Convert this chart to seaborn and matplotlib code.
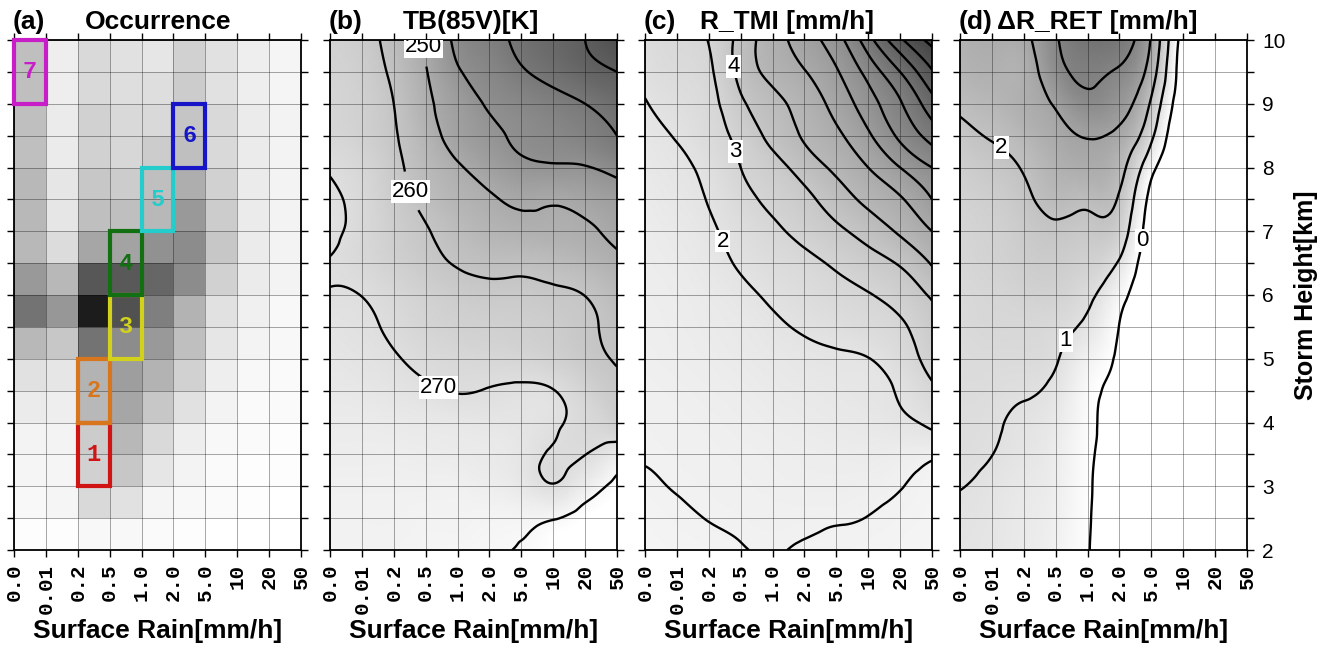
import numpy as np
import pandas as pd
import matplotlib
matplotlib.use("Agg")
import matplotlib.pyplot as plt
import matplotlib.tri as mtri
from matplotlib.colors import LinearSegmentedColormap
from matplotlib.patches import Rectangle
import seaborn as sns

sns.set_style("ticks")
plt.rcParams['font.family'] = ['Liberation Sans', 'DejaVu Sans']
plt.rcParams['text.color'] = 'black'
plt.rcParams['axes.labelcolor'] = 'black'
plt.rcParams['xtick.color'] = 'black'
plt.rcParams['ytick.color'] = 'black'

# === axes ===
rain_labels = ["0.0", "0.01", "0.2", "0.5", "1.0", "2.0", "5.0", "10", "20", "50"]
height_km = [10.0, 9.5, 9.0, 8.5, 8.0, 7.5, 7.0, 6.5, 6.0, 5.5, 5.0, 4.5, 4.0, 3.5, 3.0, 2.5, 2.0]

# === (a) occurrence, cells between heights (top -> bottom) x between rain classes ===
occurrence = [
    [0.25, 0.07, 0.15, 0.12, 0.10, 0.18, 0.12, 0.07, 0.04],
    [0.25, 0.07, 0.15, 0.13, 0.13, 0.20, 0.12, 0.07, 0.04],
    [0.25, 0.08, 0.18, 0.15, 0.15, 0.23, 0.15, 0.08, 0.05],
    [0.25, 0.08, 0.18, 0.16, 0.20, 0.25, 0.15, 0.08, 0.05],
    [0.28, 0.10, 0.22, 0.20, 0.25, 0.32, 0.18, 0.08, 0.05],
    [0.28, 0.10, 0.25, 0.25, 0.28, 0.40, 0.20, 0.08, 0.05],
    [0.28, 0.14, 0.35, 0.36, 0.43, 0.45, 0.22, 0.08, 0.05],
    [0.40, 0.28, 0.66, 0.65, 0.60, 0.45, 0.18, 0.08, 0.05],
    [0.55, 0.41, 0.89, 0.68, 0.50, 0.30, 0.12, 0.06, 0.03],
    [0.28, 0.22, 0.55, 0.45, 0.40, 0.25, 0.10, 0.05, 0.03],
    [0.12, 0.10, 0.30, 0.38, 0.30, 0.18, 0.07, 0.03, 0.02],
    [0.08, 0.07, 0.28, 0.35, 0.22, 0.12, 0.05, 0.02, 0.02],
    [0.05, 0.05, 0.20, 0.28, 0.15, 0.07, 0.03, 0.02, 0.01],
    [0.04, 0.04, 0.18, 0.22, 0.10, 0.05, 0.02, 0.01, 0.01],
    [0.03, 0.04, 0.15, 0.12, 0.04, 0.03, 0.02, 0.01, 0.00],
    [0.01, 0.01, 0.03, 0.03, 0.02, 0.01, 0.00, 0.00, 0.00],
]

# selected classes (rain column index, bottom of 1 km layer)
box_num = ["1", "2", "3", "4", "5", "6", "7"]
box_col = [2, 2, 3, 3, 4, 5, 0]
box_bottom_km = [3, 4, 5, 6, 7, 8, 9]
box_colors = ["#d01414", "#d8761e", "#d2d21c", "#127012", "#24cccc", "#1616c8", "#c81ec8"]

# === (b) TB(85V) [K], rows = height_km, cols = rain_labels ===
tb85v = [
    [265, 263, 257, 249, 238, 233, 228, 224, 220, 214],
    [266, 264, 258.5, 250.5, 241, 236, 231, 227, 223, 220],
    [266.5, 264.5, 260, 252, 245, 239, 236, 233, 230, 226],
    [267, 265, 260.7, 254, 246.5, 242, 238.5, 236.5, 234, 230],
    [269.5, 267, 262, 256, 251, 246, 242, 241, 240.5, 237],
    [271, 268, 263, 258, 254, 251, 248.5, 249, 247.5, 245],
    [271.5, 268, 264, 260.5, 257, 254, 252.5, 252, 251, 248],
    [269.8, 268, 265, 262, 259.5, 258, 258, 257, 255, 252],
    [270.3, 269.9, 267.5, 265, 263, 262, 262, 261, 259.9, 256],
    [272, 271, 269, 266.5, 265, 264.5, 264, 263, 261, 258.5],
    [273, 272, 270.5, 268.5, 267.5, 267, 266.5, 265, 262, 259.5],
    [274, 273.5, 272.5, 271, 269.7, 270.3, 271, 270.2, 266, 262],
    [275, 275, 274.5, 274, 273.5, 273, 272.5, 271, 268, 264],
    [276, 276, 276, 275.5, 275, 274.5, 273, 269.3, 269.9, 275],
    [277, 277, 277, 277, 277, 276, 274, 270.5, 276, 282],
    [277.5, 277.5, 277.5, 278, 278, 278.5, 278.5, 279.5, 283, 285],
    [278, 278, 278, 278.5, 279, 279.7, 280.2, 283, 285, 286],
]

# === (c) R_TMI [mm/h] ===
r_tmi = [
    [2.4, 2.7, 3.03, 4.35, 5.55, 6.5, 7.6, 9.6, 11.8, 13.3],
    [2.25, 2.55, 2.85, 4.3, 5.3, 5.95, 6.9, 8.35, 10.0, 11.9],
    [1.95, 2.3, 2.7, 3.8, 4.7, 5.4, 6.35, 7.55, 8.9, 10.6],
    [1.75, 2.05, 2.55, 3.3, 4.3, 5.1, 5.8, 6.85, 8.2, 9.4],
    [1.6, 1.85, 2.25, 3.0, 3.6, 4.45, 5.2, 6.0, 7.0, 8.0],
    [1.45, 1.7, 2.05, 2.7, 3.2, 3.75, 4.5, 5.25, 5.9, 7.0],
    [1.35, 1.55, 1.85, 2.35, 2.8, 3.3, 3.8, 4.4, 5.15, 6.0],
    [1.3, 1.45, 1.7, 2.1, 2.45, 2.75, 3.15, 3.6, 4.1, 5.1],
    [1.25, 1.35, 1.55, 1.8, 2.15, 2.45, 2.7, 2.95, 3.4, 4.1],
    [1.2, 1.3, 1.45, 1.6, 1.85, 2.1, 2.3, 2.55, 2.85, 3.7],
    [1.15, 1.25, 1.35, 1.5, 1.65, 1.8, 1.9, 1.98, 2.5, 3.35],
    [1.1, 1.15, 1.25, 1.35, 1.5, 1.6, 1.7, 1.82, 2.08, 2.8],
    [1.05, 1.1, 1.15, 1.25, 1.35, 1.45, 1.55, 1.65, 1.85, 2.2],
    [1.03, 1.06, 1.1, 1.15, 1.22, 1.3, 1.35, 1.4, 1.3, 1.15],
    [0.93, 1.02, 1.06, 1.1, 1.15, 1.2, 1.22, 1.15, 1.02, 0.85],
    [0.85, 0.93, 1.01, 1.05, 1.08, 1.07, 1.04, 0.99, 0.9, 0.8],
    [0.78, 0.85, 0.9, 0.98, 1.02, 0.97, 0.93, 0.88, 0.82, 0.75],
]

# === (d) Delta R_RET [mm/h] ===
dr_ret = [
    [2.5, 2.7, 2.8, 3.9, 4.5, 4.4, 2.9, -0.4, -0.4, -0.4],
    [2.4, 2.55, 2.6, 3.65, 4.15, 3.9, 2.5, -0.5, -0.5, -0.5],
    [2.15, 2.35, 2.6, 3.1, 3.75, 3.4, 1.85, -0.6, -0.6, -0.6],
    [1.8, 2.05, 2.35, 2.75, 3.05, 2.8, 1.2, -0.8, -0.8, -0.8],
    [1.6, 1.8, 2.05, 2.5, 2.7, 2.3, 0.3, -0.8, -0.8, -0.8],
    [1.45, 1.6, 1.85, 2.23, 2.18, 1.9, -0.3, -0.8, -0.8, -0.8],
    [1.35, 1.5, 1.7, 1.87, 1.78, 1.5, -0.5, -0.8, -0.8, -0.8],
    [1.3, 1.45, 1.6, 1.65, 1.5, 0.9, -0.6, -0.8, -0.8, -0.8],
    [1.25, 1.35, 1.45, 1.45, 1.15, 0.3, -0.6, -0.7, -0.7, -0.7],
    [1.2, 1.3, 1.3, 1.2, 0.85, -0.02, -0.6, -0.6, -0.6, -0.6],
    [1.18, 1.2, 1.2, 1.05, 0.45, -0.12, -0.6, -0.6, -0.6, -0.6],
    [1.15, 1.12, 1.05, 0.85, 0.2, -0.2, -0.55, -0.5, -0.5, -0.5],
    [1.12, 1.06, 0.92, 0.7, 0.15, -0.26, -0.5, -0.5, -0.5, -0.5],
    [1.1, 1.005, 0.85, 0.6, 0.1, -0.29, -0.5, -0.5, -0.5, -0.5],
    [1.01, 0.9, 0.75, 0.55, 0.07, -0.31, -0.5, -0.5, -0.5, -0.5],
    [0.95, 0.85, 0.7, 0.5, 0.05, -0.33, -0.5, -0.5, -0.5, -0.5],
    [0.9, 0.82, 0.68, 0.45, 0.03, -0.35, -0.5, -0.5, -0.5, -0.5],
]

w2k = LinearSegmentedColormap.from_list("w2k", ["white", "black"])
k2w = LinearSegmentedColormap.from_list("k2w", ["black", "white"])

fig = plt.figure(figsize=(13.32, 6.48), dpi=100)
lefts = [14, 330, 645, 960]
axes = [fig.add_axes([l / 1332, 98 / 648, 287 / 1332, 510 / 648]) for l in lefts]

# regular triangulation of the value grid (rain class index x height)
n_x, n_y = len(rain_labels), len(height_km)
gx = np.tile(np.arange(n_x), n_y)
gy = np.repeat(height_km, n_x)
triangles = []
for r in range(n_y - 1):
    for c in range(n_x - 1):
        p = r * n_x + c
        triangles.append([p, p + 1, p + n_x + 1])
        triangles.append([p, p + n_x + 1, p + n_x])
grid_tri = mtri.Triangulation(gx, gy, triangles)
refiner = mtri.UniformTriRefiner(grid_tri)


def style_axis(ax):
    ax.set_xticks(range(n_x))
    ax.set_xticklabels(rain_labels, rotation=90, family="Liberation Mono",
                       weight="bold", fontsize=15)
    ax.tick_params(axis="both", direction="out", length=5, width=1, color="black",
                   top=True, right=True, bottom=True, left=True,
                   labelleft=False, labelright=False, pad=5)
    ax.grid(True, color="black", alpha=0.4, linewidth=0.6)
    ax.set_axisbelow(False)
    for s in ax.spines.values():
        s.set_visible(True)
        s.set_linewidth(1.3)
        s.set_color("black")
    ax.set_xlabel("Surface Rain[mm/h]", fontsize=19, weight="bold", labelpad=4)


def title(ax, letter, text, xoff):
    ax.text(-0.005, 1.022, letter, transform=ax.transAxes, fontsize=19,
            weight="bold", va="baseline", ha="left")
    ax.text(xoff, 1.022, text, transform=ax.transAxes, fontsize=19,
            weight="bold", va="baseline", ha="left")


def field_panel(ax, values, cmap, vmin, vmax, levels, lab_levels, lab_pos):
    z = np.array(values, dtype=float).ravel()
    tri_f, z_f = refiner.refine_field(z, subdiv=4)
    ax.tripcolor(tri_f, z_f, shading="gouraud", cmap=cmap, vmin=vmin, vmax=vmax,
                 rasterized=True, zorder=1)
    plain = [lv for lv in levels if lv not in lab_levels]
    ax.tricontour(tri_f, z_f, levels=plain, colors="black", linewidths=1.7, zorder=3)
    cs = ax.tricontour(tri_f, z_f, levels=lab_levels, colors="black",
                       linewidths=1.7, zorder=3)
    lbls = ax.clabel(cs, manual=lab_pos, inline=True, inline_spacing=2,
                     fmt="%d", fontsize=16)
    for t in lbls:
        t.set_rotation(0)
        t.set_zorder(5)
        t.set_bbox(dict(facecolor="white", edgecolor="none", pad=0.6))
    ax.set_xlim(0, n_x - 1)
    ax.set_ylim(2, 10)
    ax.set_yticks(height_km)
    style_axis(ax)


# === (a) Occurrence ===
ax = axes[0]
occ_df = pd.DataFrame(occurrence, index=height_km[:-1], columns=rain_labels[:-1])
sns.heatmap(occ_df, ax=ax, cmap=w2k, vmin=0, vmax=1, cbar=False,
            xticklabels=False, yticklabels=False)
ax.set_yticks(range(n_y))
style_axis(ax)
for num, col, bot, colr in zip(box_num, box_col, box_bottom_km, box_colors):
    row_top = (10 - (bot + 1)) * 2
    ax.add_patch(Rectangle((col, row_top), 1, 2, fill=False, edgecolor=colr,
                           linewidth=3, zorder=4, clip_on=False))
    ax.text(col + 0.5, row_top + 1, num, color=colr, fontsize=17, weight="bold",
            family="Liberation Mono", ha="center", va="center", zorder=5)
title(ax, "(a)", "Occurrence", 0.247)

# === (b) TB(85V) ===
field_panel(axes[1], tb85v, k2w, 183, 283, [220, 230, 240, 250, 260, 270, 280],
            [250, 260, 270], [(2.9, 9.9), (2.55, 7.63), (3.3, 4.43)])
title(axes[1], "(b)", "TB(85V)[K]", 0.255)

# === (c) R_TMI ===
field_panel(axes[2], r_tmi, w2k, 0, 18, list(range(1, 15)),
            [2, 3, 4], [(2.3, 6.82), (2.74, 8.23), (2.94, 9.6)])
title(axes[2], "(c)", "R_TMI [mm/h]", 0.19)

# === (d) Delta R_RET ===
ax = axes[3]
field_panel(ax, dr_ret, w2k, 0, 8.3, [0, 1, 2, 3, 4],
            [0, 1, 2], [(5.61, 6.86), (3.45, 5.25), (1.32, 8.32)])
title(ax, "(d)", "\u0394R_RET [mm/h]", 0.13)
ax.set_yticklabels([f"{h:.0f}" if h == int(h) else "" for h in height_km],
                   fontsize=15)
ax.tick_params(axis="y", labelright=True, pad=6)
ax.yaxis.set_label_position("right")
ax.set_ylabel("Storm Height[km]", fontsize=18, weight="bold", labelpad=6)

fig.savefig("out.png", dpi=100)
